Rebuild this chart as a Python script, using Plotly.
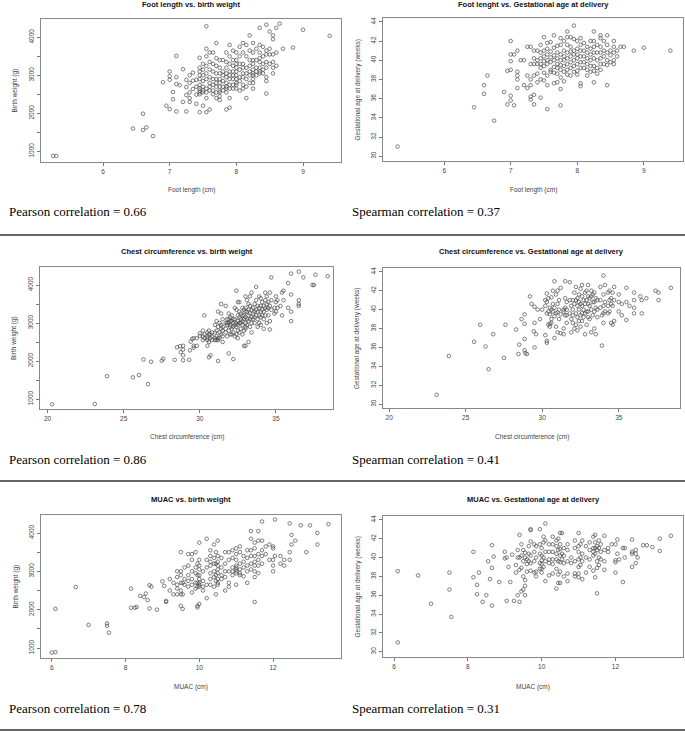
import plotly.graph_objects as go

W, H = 685, 732

# values, grouped as (x, [y values at that x])
foot_bw = [
    (5.25, [880]), (5.3, [880]), (6.45, [1600]), (6.6, [1990, 1560]), (6.65, [1630]),
    (6.75, [1400]), (6.9, [2815]), (6.95, [2200]), (7.0, [3100, 2975, 2880, 2110]),
    (7.05, [2560, 2370]), (7.1, [3510, 2950, 2770, 2050]), (7.15, [2740]), (7.2, [3160, 2300]),
    (7.25, [2880, 2690, 2480, 2050]), (7.3, [3000, 2800, 2550, 2400, 2300]),
    (7.35, [3070, 2860, 2640]), (7.4, [2880, 2700, 2490, 2250]),
    (7.45, [3460, 3200, 3100, 3000, 2900, 2750, 2650, 2600, 2550, 2500, 2030]),
    (7.5, [3300, 3150, 3000, 2850, 2700, 2600, 2550, 2200]),
    (7.55, [4290, 3700, 3500, 3250, 3050, 2900, 2650, 2550, 2400, 2030]),
    (7.6, [3600, 3350, 3150, 2950, 2800, 2700, 2600, 2100]),
    (7.65, [3600, 3300, 3100, 2900, 2750, 2600, 2500]),
    (7.7, [3850, 3450, 3250, 3050, 2900, 2800, 2700, 2550, 2400]),
    (7.75, [3400, 3200, 3050, 2900, 2800, 2700, 2600, 2550, 2450, 2350]),
    (7.8, [3400, 3100, 3000, 2850, 2700, 2600]),
    (7.85, [3600, 3350, 3200, 3050, 2950, 2800, 2700, 2650, 2550, 2100]),
    (7.9, [3800, 3500, 3300, 3100, 3000, 2900, 2750, 2650, 2400, 2150]),
    (7.95, [3650, 3400, 3250, 3100, 3000, 2900, 2750, 2650]),
    (8.0, [3600, 3400, 3300, 3200, 3100, 3000, 2900, 2800, 2750, 2650]),
    (8.05, [3750, 3500, 3300, 3150, 2950, 2850, 2600]),
    (8.1, [3850, 3600, 3300, 3200, 3050, 2950, 2750, 2650]),
    (8.15, [3800, 3500, 3200, 3050, 2900, 2700, 2400]),
    (8.2, [4050, 3650, 3400, 3250, 3100, 3000, 2800]),
    (8.25, [3850, 3600, 3400, 3300, 3150, 3050, 3000, 2900, 2800, 2650]),
    (8.3, [3700, 3400, 3200, 3100, 3000]),
    (8.35, [4250, 3800, 3600, 3450, 3350, 3200, 3100, 3050]),
    (8.4, [3750, 3500, 3300, 3150, 3050]),
    (8.45, [4330, 3650, 3550, 3350, 3200, 2950, 2850, 2520]),
    (8.5, [4150, 3700, 3550, 3300]),
    (8.55, [4050, 3950, 3550, 3350, 3200, 3050]),
    (8.6, [4250, 3600, 3250]), (8.65, [4360]), (8.7, [3700]), (8.85, [3730]),
    (9.0, [4200]), (9.4, [4040]),
]

foot_ga = [
    (5.3, [31.0]), (6.45, [35.1]), (6.6, [36.5, 37.4]), (6.65, [38.4]), (6.75, [33.7]),
    (6.9, [36.7]), (6.95, [35.4, 38.9]), (7.0, [42.0, 40.6, 39.9, 39.0, 36.3, 35.8]),
    (7.05, [40.6, 35.3]), (7.1, [41.0, 38.8, 38.4, 38.0, 37.1]), (7.15, [40.0]),
    (7.2, [40.0, 37.4]), (7.25, [41.4, 38.4, 37.1]),
    (7.3, [41.4, 39.6, 38.0, 37.4, 36.2, 35.9]),
    (7.35, [41.0, 40.2, 39.6, 38.4, 36.4, 35.4]),
    (7.4, [41.0, 40.0, 39.6, 38.6, 37.7]),
    (7.45, [41.6, 40.8, 40.2, 39.6, 39.2, 38.0, 36.1]),
    (7.5, [42.4, 41.0, 40.4, 39.9, 39.4, 38.7, 37.9]),
    (7.55, [41.8, 41.2, 40.6, 40.0, 39.6, 38.4, 37.4, 34.9]),
    (7.6, [41.9, 40.9, 40.3, 39.8, 39.0, 38.8]),
    (7.65, [42.6, 41.3, 40.5, 40.0, 39.3, 38.7, 37.6]),
    (7.7, [41.5, 40.8, 40.2, 39.6, 39.2, 38.6, 37.7]),
    (7.75, [42.3, 41.6, 40.6, 40.0, 39.5, 39.0, 38.2, 37.0, 35.3]),
    (7.8, [42.0, 41.0, 40.4, 40.0, 39.4, 38.8, 37.8]),
    (7.85, [43.0, 42.4, 41.6, 40.8, 40.2, 39.6, 39.0, 38.5]),
    (7.9, [42.4, 41.4, 40.9, 40.4, 39.8, 39.2, 38.4]),
    (7.95, [43.6, 42.2, 41.0, 40.6, 40.0, 39.4, 38.8]),
    (8.0, [42.0, 41.2, 40.6, 40.2, 39.6, 38.9, 38.5]),
    (8.05, [42.3, 41.6, 41.0, 40.4, 39.8, 39.2, 37.6, 37.3]),
    (8.1, [41.8, 41.0, 40.4, 39.8, 39.2]),
    (8.15, [41.4, 40.8, 40.2, 39.6, 39.0, 38.4]),
    (8.2, [42.0, 41.2, 40.6, 40.0, 39.4, 38.8]),
    (8.25, [43.0, 42.0, 41.4, 40.8, 40.2, 39.4, 38.9, 37.7]),
    (8.3, [41.6, 40.8, 40.0, 39.2, 38.6]),
    (8.35, [42.6, 42.3, 41.4, 40.8, 40.2, 39.6, 39.0]),
    (8.4, [42.0, 41.0, 40.4, 39.6]),
    (8.45, [42.6, 41.6, 40.8, 40.0, 39.5, 37.4]),
    (8.5, [41.0, 40.5, 39.8]),
    (8.55, [42.0, 41.4, 40.8, 40.0, 39.6]),
    (8.6, [41.0, 40.4]), (8.65, [41.4]), (8.7, [41.4]), (8.85, [41.0]),
    (9.0, [41.3]), (9.4, [41.0]),
]

chest_bw = [
    (20.3, [860]), (23.1, [870]), (23.9, [1600]), (25.6, [1570]), (26.0, [1630]),
    (26.3, [2040]), (26.6, [1390]), (26.8, [1980]), (27.5, [2010]), (27.6, [2060]),
    (28.35, [2030]), (28.5, [2360]), (28.7, [2390]), (28.75, [2230]),
    (28.9, [2400, 2300, 2150, 2020]), (29.3, [2030]), (29.35, [2280]), (29.4, [2510]),
    (29.5, [2580]), (29.6, [2600, 2400, 2350]), (29.8, [2400, 2600]), (30.0, [2660, 2730]),
    (30.2, [2650, 2550, 2800]), (30.3, [3200, 2700, 2600]),
    (30.5, [2750, 2650, 2600, 2550, 2400]), (30.6, [2800, 2700, 2500, 2100]),
    (30.7, [2700, 2150, 2600]), (30.8, [2750, 2550, 2650]),
    (31.0, [2950, 2750, 2600, 2550]), (31.1, [3050, 2800, 2650, 2550]),
    (31.2, [3300, 2900, 2600, 2550, 2000]), (31.3, [3000, 2750, 2600]),
    (31.4, [3500, 3250, 2950, 2850, 2700]), (31.5, [3100, 2900, 2800, 2650, 2500]),
    (31.7, [3450, 3000, 2850, 2750]), (31.8, [3100, 3000, 2950, 2650]),
    (31.9, [3250, 3100, 3000, 2800, 2200]), (32.0, [3150, 3050, 2950, 2900, 2700]),
    (32.1, [3200, 3050, 2850, 2700]), (32.2, [3100, 3000, 2900, 2750, 2050]),
    (32.3, [3400, 3100, 2950, 2650]), (32.4, [3850, 3350, 3000, 2900, 2700]),
    (32.5, [3550, 3200, 3050, 2950, 2800, 2600]), (32.6, [3550, 3300, 3150, 3000, 2750]),
    (32.7, [3250, 3100, 3000, 2850]), (32.8, [3400, 3200, 3050, 2950, 2700]),
    (32.9, [3350, 3200, 3100, 2800, 2400]),
    (33.0, [3700, 3400, 3300, 3150, 3000, 2900, 2850, 2400]),
    (33.1, [3600, 3300, 3100, 2950]), (33.2, [3500, 3350, 3200, 3050, 2500]),
    (33.3, [3700, 3450, 3250, 3100, 2900]), (33.4, [3800, 3350, 3150, 3000, 2750]),
    (33.5, [3400, 3250, 3100]), (33.6, [3500, 3300, 3150, 3000]),
    (33.7, [3950, 3600, 3350, 3200]), (33.8, [3450, 3300, 3100, 2900]),
    (33.9, [3700, 3400, 3200, 3000]), (34.0, [3650, 3450, 3300, 3150, 2950]),
    (34.1, [3550, 3350, 3200]), (34.2, [3450, 3300, 3100, 2850]),
    (34.3, [3800, 3600, 3400, 3200]), (34.4, [3700, 3500, 3350, 3000]),
    (34.5, [3550, 3400, 3200]), (34.6, [3800, 3450, 3050, 2830]),
    (34.7, [4200, 3600, 3350]), (34.9, [3400, 3250]), (35.0, [3700, 3550, 3300]),
    (35.1, [3600, 3400]), (35.3, [3450]), (35.4, [3800, 3200]), (35.5, [3850, 3600]),
    (35.8, [4050, 3400]), (36.0, [4300, 3750, 3300, 3050]),
    (36.5, [4350, 3600, 3500, 3450]), (36.8, [4200]), (37.4, [4000]), (37.5, [4000]),
    (37.6, [4270]), (38.4, [4230]),
]

chest_ga = [
    (23.1, [31.0]), (23.9, [35.1]), (25.55, [36.6]), (25.95, [38.4]), (26.3, [36.1]),
    (26.5, [33.7]), (26.8, [37.4]), (27.5, [34.9]), (27.6, [38.4]), (28.3, [37.9]),
    (28.45, [35.3]), (28.5, [36.3]), (28.65, [39.0]), (28.85, [39.5, 38.5, 36.9, 35.7]),
    (28.9, [35.4]), (29.0, [35.3]), (29.2, [41.4]), (29.3, [40.6]), (29.45, [37.7]),
    (29.5, [38.6, 36.0, 40.3]), (29.6, [37.4]), (29.7, [40.0]), (29.85, [39.0]),
    (30.0, [40.0]), (30.2, [41.0, 40.4, 37.3]), (30.3, [41.7, 40.8, 39.6, 36.7, 36.5]),
    (30.4, [41.2, 39.8, 38.4]), (30.5, [40.2, 39.5, 38.5, 38.2]),
    (30.6, [41.3, 40.0, 39.0, 38.6]), (30.7, [42.0, 40.6, 39.8]),
    (30.8, [43.0, 40.2, 39.3, 37.0]), (30.9, [41.6, 39.6, 38.2]),
    (31.0, [42.0, 40.6, 39.7, 37.6]), (31.1, [41.0, 40.0, 39.0]),
    (31.2, [42.3, 39.5, 37.5]), (31.4, [40.0, 39.8, 38.0, 37.4]),
    (31.5, [43.0, 41.2, 40.2, 39.4]), (31.6, [40.8, 40.0, 39.4, 38.6]),
    (31.8, [42.9, 41.0, 39.6]), (31.9, [40.4, 39.0, 37.6]),
    (32.0, [41.0, 40.0, 39.4, 38.6]), (32.1, [41.8, 40.6, 38.0]),
    (32.2, [42.4, 41.0, 39.6, 38.4]), (32.3, [41.2, 40.4, 39.2, 37.8]),
    (32.4, [41.6, 40.8, 40.0, 38.8]), (32.5, [42.2, 40.6, 39.4, 38.2]),
    (32.6, [42.6, 41.4, 40.4, 39.6, 38.8]), (32.7, [41.0, 40.0, 39.2]),
    (32.8, [41.8, 40.6, 39.6, 37.4]), (32.9, [42.0, 41.0, 39.8, 38.4]),
    (33.0, [42.6, 41.4, 40.6, 39.8, 39.2]), (33.1, [41.2, 40.4, 39.0]),
    (33.2, [42.0, 41.4, 40.0, 37.6]), (33.3, [41.6, 40.8, 39.4]),
    (33.4, [41.8, 40.8, 39.8, 38.0]), (33.5, [41.2, 40.2, 37.4]),
    (33.6, [41.0, 40.0, 39.2]), (33.8, [42.4, 41.0, 40.2]), (33.9, [36.2, 39.4]),
    (34.0, [43.6, 41.6, 40.4, 39.6, 38.6]), (34.1, [42.6, 40.8, 39.8]),
    (34.3, [41.8, 40.4, 39.6]), (34.4, [42.0, 41.0, 39.8]), (34.5, [41.2, 40.6, 38.6]),
    (34.6, [41.8, 40.4, 38.4]), (34.7, [42.4, 41.0, 38.8]), (35.0, [41.6, 40.8, 39.8]),
    (35.2, [39.4, 40.6]), (35.5, [42.3, 40.8, 38.9]), (35.7, [40.4]),
    (36.0, [41.8, 41.0, 40.2, 39.6]), (36.4, [41.4]), (36.5, [41.0, 39.6]),
    (36.8, [41.2]), (37.4, [42.0]), (37.6, [41.0, 41.8]), (38.4, [42.3]),
]

muac_bw = [
    (6.0, [880]), (6.1, [890, 2020]), (6.65, [2590]), (7.0, [1600]), (7.5, [1640, 1580]),
    (7.55, [1400]), (8.15, [2550, 2050]), (8.25, [2050]), (8.3, [2070]), (8.4, [2360]),
    (8.5, [2330]), (8.55, [2420]), (8.6, [2250]), (8.65, [2640, 2030]), (8.7, [2600]),
    (8.85, [2000]), (9.0, [2740]), (9.05, [2620]), (9.1, [2200, 2230]), (9.2, [2800, 2500]),
    (9.3, [2700, 2400]), (9.4, [3000, 2850, 2650, 2550, 2400]),
    (9.5, [3500, 3000, 2900, 2700, 2500, 2400, 2100]), (9.55, [2700, 2400, 2020]),
    (9.6, [3100, 2800, 2650]), (9.7, [3450, 3150, 2900, 2750, 2600]),
    (9.8, [3450, 3300, 3000, 2800, 2650, 2450]), (9.9, [3500, 3100, 2950, 2700, 2550]),
    (9.95, [3200, 2900, 2700, 2600, 2100, 2060]),
    (10.0, [3750, 3300, 3150, 3050, 2900, 2800, 2700, 2650, 2600, 2150]),
    (10.1, [3000, 2750, 2600, 2500]), (10.2, [3850, 3300, 3100, 2650, 2300]),
    (10.3, [3550, 3400, 3250, 3150, 2950, 2800, 2650]),
    (10.4, [3700, 3350, 3200, 3000, 2850, 2600]), (10.45, [3500, 3200, 2900, 2750, 2400]),
    (10.5, [3800, 3400, 3250, 3150, 3050, 2950, 2800, 2700, 2650]),
    (10.6, [3350, 3100, 2900, 2800]), (10.7, [3500, 3200, 3000, 2850, 2500]),
    (10.8, [3500, 3300, 3000, 2700, 2600]), (10.9, [3550, 3350, 3100, 3000, 2900]),
    (11.0, [3600, 3450, 3300, 3150, 3100, 3050, 3000, 2950, 2650]),
    (11.1, [3650, 3500, 3200, 3050, 2950, 2900]), (11.2, [3400, 3250, 3100, 2870]),
    (11.3, [3550, 3350, 3150, 3000, 2700]), (11.4, [4050, 3850, 3550, 3400, 3200, 3050]),
    (11.5, [3750, 3600, 3400, 3250, 3150, 3000, 2850, 2200]),
    (11.6, [4050, 3800, 3450, 3300, 3150, 2950]), (11.7, [4300, 3800, 3550, 3400, 3200]),
    (11.8, [3650, 3450]), (11.9, [3700, 3300]), (12.0, [3650, 3600, 3300, 3150, 3000]),
    (12.05, [4350, 3400]), (12.2, [3400, 3200]), (12.3, [3300, 3150]),
    (12.45, [4250, 3500, 3300]), (12.5, [3950, 3700]), (12.6, [3800]), (12.75, [4200]),
    (12.9, [3500]), (13.0, [4200]), (13.2, [4000, 3700]), (13.5, [4230]),
]

muac_ga = [
    (6.1, [31.0, 38.55]), (6.65, [38.1]), (7.0, [35.1]), (7.5, [38.4, 36.6]), (7.55, [33.7]),
    (8.15, [37.9, 40.6]), (8.25, [37.1, 36.1]), (8.3, [38.4]), (8.4, [35.3]), (8.5, [36.0]),
    (8.55, [39.6]), (8.6, [37.7]), (8.65, [38.9, 41.3, 34.9]), (8.7, [40.1]), (8.85, [37.4]),
    (9.0, [40.6, 39.9]), (9.05, [40.0, 35.4]), (9.1, [39.0]), (9.15, [37.4]), (9.2, [40.3]),
    (9.25, [35.4]), (9.3, [39.2, 38.4]), (9.35, [40.8, 40.0, 36.0]),
    (9.4, [42.4, 40.0, 38.7, 35.3]), (9.45, [41.4, 40.2, 38.9, 36.4]),
    (9.5, [40.8, 39.6, 38.0, 36.6]), (9.55, [40.5, 40.0, 37.6, 37.0, 36.0]),
    (9.6, [39.8, 39.3, 38.5]), (9.65, [41.2, 40.4, 39.6]),
    (9.7, [43.0, 42.9, 41.7, 40.2, 39.4, 38.6]), (9.8, [41.4, 40.6, 39.6, 38.4]),
    (9.85, [41.2, 40.0, 38.5, 38.0]), (9.95, [43.0, 41.4, 40.4, 39.4, 38.8]),
    (10.0, [41.0, 40.2, 39.7, 39.3, 38.8, 38.4]), (10.05, [42.2, 41.6, 40.0, 39.0]),
    (10.1, [43.6, 41.8, 40.6, 39.6, 37.5]), (10.2, [41.4, 40.6, 39.8, 39.4, 38.1]),
    (10.3, [42.2, 41.4, 40.6, 39.8, 39.3, 38.3]),
    (10.4, [41.8, 41.2, 40.4, 39.8, 38.8, 36.7]), (10.45, [42.0, 40.8, 39.6, 38.2, 37.3]),
    (10.5, [42.6, 41.4, 40.9, 40.2, 39.5, 38.5, 37.3]), (10.55, [42.6, 40.4, 39.8]),
    (10.6, [41.0, 40.2, 39.4, 38.0]), (10.7, [41.4, 40.8, 39.6, 38.3, 37.5]),
    (10.8, [40.0, 39.4]), (10.9, [41.8, 41.0, 39.6, 38.3, 38.0]),
    (11.0, [42.6, 41.2, 40.6, 39.8, 39.0, 38.3, 37.9]), (11.05, [41.4, 40.0, 39.2]),
    (11.1, [41.8, 40.4, 39.6, 37.7]), (11.2, [41.2, 40.0, 38.4]),
    (11.3, [41.6, 40.8, 39.8, 39.0]), (11.4, [42.2, 41.0, 40.6, 40.2, 38.6]),
    (11.45, [42.4, 41.6, 41.0, 40.4, 37.9]), (11.5, [41.2, 40.8, 39.6, 38.9, 36.2]),
    (11.55, [41.8, 41.0, 40.0, 39.2]), (11.6, [41.4, 40.6, 39.8]),
    (11.7, [42.3, 40.8, 39.6, 38.7]), (11.8, [41.0, 40.6]), (11.9, [41.4]),
    (12.0, [41.4, 39.7, 39.5, 38.4]), (12.05, [41.9, 40.4]), (12.1, [39.8]),
    (12.2, [41.0, 37.4]), (12.25, [41.0, 40.0]), (12.45, [41.9, 40.6, 40.4, 39.0]),
    (12.55, [40.4, 40.8, 39.4]), (12.6, [40.0]), (12.75, [41.3]), (12.85, [41.3]),
    (13.0, [41.1]), (13.2, [42.0, 40.7]), (13.5, [42.3]),
]

titles = [
    "Foot length vs. birth weight", "Foot lenght vs. Gestational age at delivery",
    "Chest circumference vs. birth weight", "Chest circumference vs. Gestational age at delivery",
    "MUAC vs. birth weight", "MUAC vs. Gestational age at delivery",
]
x_titles = ["Foot length (cm)", "Foot length (cm)", "Chest circumference (cm)",
            "Chest circumference (cm)", "MUAC (cm)", "MUAC (cm)"]
y_titles = ["Birth weight (g)", "Gestational age at delivery (weeks)"] * 3
corr_texts = ["Pearson correlation = 0.66", "Spearman correlation = 0.37",
              "Pearson correlation = 0.86", "Spearman correlation = 0.41",
              "Pearson correlation = 0.78", "Spearman correlation = 0.31"]

bw_ticks = [1000, 1500, 2000, 2500, 3000, 3500, 4000]
bw_labels = ["1000", "", "2000", "", "3000", "", "4000"]
ga_ticks = [30, 32, 34, 36, 38, 40, 42, 44]
foot_ticks = [6, 7, 8, 9]
chest_ticks = [20, 25, 30, 35]
muac_ticks = [6, 8, 10, 12]

# panel boxes in pixels: left, top, right, bottom
boxes = [(41, 19, 341, 162), (383, 18, 683, 161),
         (40, 267, 333, 409), (383, 268, 680, 408),
         (41, 515, 341, 658), (383, 516, 683, 657)]
x_ranges = [(5.07, 9.57), (5.08, 9.59), (19.5, 38.75), (19.6, 39.0), (5.71, 13.84), (5.7, 13.83)]
y_ranges = [(718, 4482), (29.5, 44.4), (737, 4474), (29.6, 44.4), (739, 4470), (29.45, 44.4)]
x_tick_sets = [foot_ticks, foot_ticks, chest_ticks, chest_ticks, muac_ticks, muac_ticks]
title_y = [5, 5, 251, 251, 499, 499]
xlab_y = [190, 190, 437, 437, 687, 687]
corr_y = [211, 211, 459, 459, 708, 708]
panels = [foot_bw, foot_ga, chest_bw, chest_ga, muac_bw, muac_ga]


def expand(groups):
    xs, ys = [], []
    for x, vals in groups:
        for v in vals:
            xs.append(x)
            ys.append(v)
    return xs, ys


def px(x):
    return x / W


def py(y):
    return 1 - y / H


fig = go.Figure()
annotations = []
axis_font = dict(family="Liberation Sans, Arial", size=6.5, color="#444")

for i, groups in enumerate(panels):
    n = i + 1
    suffix = "" if n == 1 else str(n)
    xs, ys = expand(groups)
    fig.add_trace(go.Scatter(
        x=xs, y=ys, mode="markers", xaxis="x" + suffix, yaxis="y" + suffix,
        marker=dict(symbol="circle-open", size=3.6, color="#4a4a4a", line=dict(width=0.7)),
        showlegend=False, hoverinfo="skip"))

    left, top, right, bottom = boxes[i]
    is_bw = i % 2 == 0
    fig.update_layout(**{
        "xaxis" + suffix: dict(
            domain=[px(left), px(right)], anchor="y" + suffix, range=list(x_ranges[i]),
            tickvals=x_tick_sets[i], ticks="outside", ticklen=3, tickwidth=0.8,
            tickcolor="#777", showline=True, mirror=True, linecolor="#888", linewidth=1,
            showgrid=False, zeroline=False, tickfont=axis_font, automargin=False),
        "yaxis" + suffix: dict(
            domain=[py(bottom), py(top)], anchor="x" + suffix, range=list(y_ranges[i]),
            tickvals=bw_ticks if is_bw else ga_ticks,
            ticktext=bw_labels if is_bw else [str(t) for t in ga_ticks],
            tickangle=-90, ticks="outside", ticklen=3, tickwidth=0.8, tickcolor="#777",
            showline=True, mirror=True, linecolor="#888", linewidth=1,
            showgrid=False, zeroline=False, tickfont=axis_font, automargin=False),
    })

    cx = px((left + right) / 2)
    cy = py((top + bottom) / 2)
    annotations.append(dict(
        text="<b>" + titles[i] + "</b>", x=cx, y=py(title_y[i]), xref="paper", yref="paper",
        showarrow=False, xanchor="center", yanchor="middle",
        font=dict(family="Liberation Sans, Arial", size=7.5, color="#111")))
    annotations.append(dict(
        text=x_titles[i], x=cx, y=py(xlab_y[i]), xref="paper", yref="paper",
        showarrow=False, xanchor="center", yanchor="middle", font=axis_font))
    annotations.append(dict(
        text=y_titles[i], x=px(left - 26), y=cy, xref="paper", yref="paper",
        showarrow=False, xanchor="center", yanchor="middle", textangle=-90, font=axis_font))
    annotations.append(dict(
        text=corr_texts[i], x=px(7 if is_bw else 350), y=py(corr_y[i]),
        xref="paper", yref="paper", showarrow=False, xanchor="left", yanchor="middle",
        font=dict(family="Liberation Serif, Times New Roman", size=13, color="#000")))

shapes = []
for y_line in [235, 481, 730]:
    shapes.append(dict(type="line", xref="paper", yref="paper", x0=0, x1=1,
                       y0=py(y_line), y1=py(y_line), line=dict(color="#333", width=1.3)))

fig.update_layout(
    width=W, height=H, margin=dict(l=0, r=0, t=0, b=0),
    paper_bgcolor="white", plot_bgcolor="white",
    annotations=annotations, shapes=shapes,
)

# the page's default 8px body margin would shift the figure, so drop it
fig.write_html("out.html", config={"displayModeBar": False},
               post_script="document.body.style.margin = '0';")
